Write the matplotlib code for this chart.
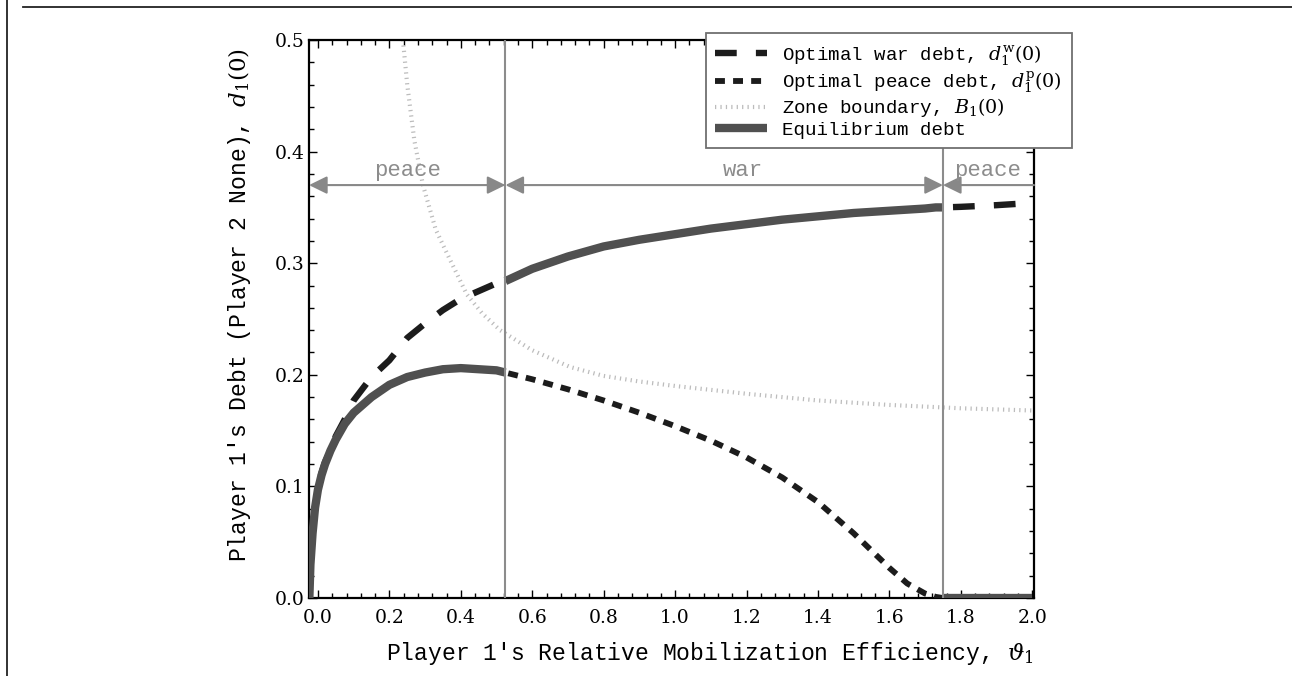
import numpy as np
import matplotlib
matplotlib.use("Agg")
import matplotlib.pyplot as plt
from matplotlib.lines import Line2D
from matplotlib.ticker import AutoMinorLocator

plt.rcParams['font.family'] = ['Liberation Mono', 'DejaVu Sans Mono']
plt.rcParams['mathtext.fontset'] = 'dejavuserif'

# ---------------- data ----------------
theta = [-0.024, -0.021, -0.015, -0.008, 0.0, 0.01, 0.02, 0.035, 0.05, 0.075,
         0.1, 0.15, 0.2, 0.25, 0.3, 0.35, 0.4, 0.45, 0.5, 0.525,
         0.6, 0.7, 0.8, 0.9, 1.0, 1.1, 1.2, 1.3, 1.4, 1.5,
         1.6, 1.65, 1.7, 1.73, 1.75, 1.8, 1.9, 2.0]

war_debt = [0.0, 0.03, 0.058, 0.081, 0.098, 0.112, 0.122, 0.132, 0.145, 0.16,
            0.177, 0.198, 0.213, 0.233, 0.246, 0.258, 0.268, 0.275, 0.282, 0.284,
            0.295, 0.306, 0.315, 0.321, 0.326, 0.331, 0.335, 0.339, 0.342, 0.345,
            0.347, 0.348, 0.349, 0.35, 0.35, 0.3505, 0.352, 0.354]

peace_debt = [0.0, 0.03, 0.058, 0.081, 0.097, 0.11, 0.12, 0.132, 0.142, 0.156,
              0.166, 0.18, 0.191, 0.198, 0.202, 0.205, 0.206, 0.205, 0.204, 0.202,
              0.196, 0.187, 0.177, 0.166, 0.154, 0.141, 0.126, 0.108, 0.086, 0.058,
              0.027, 0.013, 0.004, 0.001, 0.0, 0.0, 0.0, 0.0]

boundary_theta = [0.238, 0.25, 0.27, 0.294, 0.33, 0.37, 0.417, 0.46, 0.51, 0.6,
                  0.706, 0.8, 0.9, 1.0, 1.2, 1.4, 1.6, 1.8, 2.0]
boundary = [0.5, 0.46, 0.41, 0.37, 0.33, 0.303, 0.272, 0.255, 0.24, 0.222,
            0.207, 0.199, 0.194, 0.19, 0.183, 0.177, 0.173, 0.17, 0.168]

war_start = 0.525     # peace -> war threshold
peace_start = 1.75    # war -> peace threshold
zone_labels = ["peace", "war", "peace"]
zone_label_x = [0.25, 1.19, 1.875]
zone_y = 0.37

xticks = [0.0, 0.2, 0.4, 0.6, 0.8, 1.0, 1.2, 1.4, 1.6, 1.8, 2.0]
yticks = [0.0, 0.1, 0.2, 0.3, 0.4, 0.5]

# ---------------- figure ----------------
fig = plt.figure(figsize=(12.92, 6.76), dpi=100)
ax = fig.add_axes([309/1292, 1-598/676, 725/1292, 558/676])
xmin, xmax = -0.025, 2.005
ax.set_xlim(xmin, xmax)
ax.set_ylim(0, 0.5)

th = np.array(theta)
wd = np.array(war_debt)
pd_ = np.array(peace_debt)

war_style = dict(color='#1c1c1c', lw=4.6, linestyle=(0, (3.4, 3.0)))
peace_style = dict(color='#1c1c1c', lw=4.2, linestyle=(0, (1.7, 1.4)))
bound_style = dict(color='#bcbcbc', lw=3.0, linestyle=(0, (0.3, 1.0)))
eq_style = dict(color='#505050', lw=6.0, solid_capstyle='butt')

ax.plot(boundary_theta, boundary, zorder=2, **bound_style)
ax.plot(th, wd, zorder=3, **war_style)
ax.plot(th, pd_, zorder=3, **peace_style)

# equilibrium
m1 = th <= war_start
m2 = (th >= war_start) & (th <= peace_start)
m3 = th >= peace_start
ax.plot(th[m1], pd_[m1], zorder=4, **eq_style)
ax.plot(th[m2], wd[m2], zorder=4, **eq_style)
ax.plot(th[m3], np.zeros(m3.sum()), zorder=4, **eq_style)

# zone separators
for xv in (war_start, peace_start):
    ax.axvline(xv, color='#8c8c8c', lw=1.5, zorder=5)

arrow_col = '#888888'
hs = 'head_length=0.55,head_width=0.27'
ax.annotate('', xy=(war_start, zone_y), xytext=(xmin, zone_y),
            arrowprops=dict(arrowstyle='<|-|>,' + hs, color=arrow_col, lw=1.5,
                            shrinkA=0, shrinkB=0, mutation_scale=20), zorder=6)
ax.annotate('', xy=(peace_start, zone_y), xytext=(war_start, zone_y),
            arrowprops=dict(arrowstyle='<|-|>,' + hs, color=arrow_col, lw=1.5,
                            shrinkA=0, shrinkB=0, mutation_scale=20), zorder=6)
ax.annotate('', xy=(xmax, zone_y), xytext=(peace_start, zone_y),
            arrowprops=dict(arrowstyle='<|-,' + hs, color=arrow_col, lw=1.5,
                            shrinkA=0, shrinkB=0, mutation_scale=20), zorder=6)
for lab, xl in zip(zone_labels, zone_label_x):
    ax.text(xl, zone_y + 0.004, lab, color='#8c8c8c', fontsize=16,
            ha='center', va='bottom', zorder=6)

# axes styling
for s in ax.spines.values():
    s.set_linewidth(1.6)
    s.set_color('black')
ax.set_xticks(xticks)
ax.set_yticks(yticks)
ax.set_xticklabels([f"{v:.1f}" for v in xticks], family='DejaVu Serif')
ax.set_yticklabels([f"{v:.1f}" for v in yticks], family='DejaVu Serif')
ax.xaxis.set_minor_locator(AutoMinorLocator(5))
ax.yaxis.set_minor_locator(AutoMinorLocator(5))
ax.tick_params(which='both', direction='in', top=True, right=True, width=1.0,
               labelsize=13.5)
ax.tick_params(which='major', length=6)
ax.tick_params(which='minor', length=3.5)
ax.tick_params(axis='x', pad=8)

ax.set_xlabel(r"Player 1's Relative Mobilization Efficiency, $\vartheta_1$",
              fontsize=16.6)
ax.set_ylabel(r"Player 1's Debt (Player 2 None), $d_1(0)$", fontsize=16.6)
ax.xaxis.set_label_coords((710-309)/725, -(640-598)/558)
ax.yaxis.set_label_coords(-(309-253)/725, (598-305)/558)

handles = [Line2D([], [], **war_style),
           Line2D([], [], **peace_style),
           Line2D([], [], **bound_style),
           Line2D([], [], **eq_style)]
labels = [r"Optimal war debt, $d_1^{\mathrm{w}}(0)$",
          r"Optimal peace debt, $d_1^{\mathrm{p}}(0)$",
          r"Zone boundary, $B_1(0)$",
          "Equilibrium debt"]
leg = ax.legend(handles, labels, loc='upper right',
                bbox_to_anchor=(1.052, 1.0125), borderaxespad=0,
                fontsize=13.8, handlelength=2.7, handletextpad=0.8,
                labelspacing=0.1, borderpad=0.5, fancybox=False,
                framealpha=1, edgecolor='#707070')
leg.get_frame().set_linewidth(1.3)
leg.set_zorder(10)

# page frame lines
fig.add_artist(Line2D([23/1292, 1], [1-7/676, 1-7/676], transform=fig.transFigure,
                      color='#222222', lw=1.3))
fig.add_artist(Line2D([7/1292, 7/1292], [0, 1], transform=fig.transFigure,
                      color='#222222', lw=1.3))

fig.savefig('out.png', dpi=100)
